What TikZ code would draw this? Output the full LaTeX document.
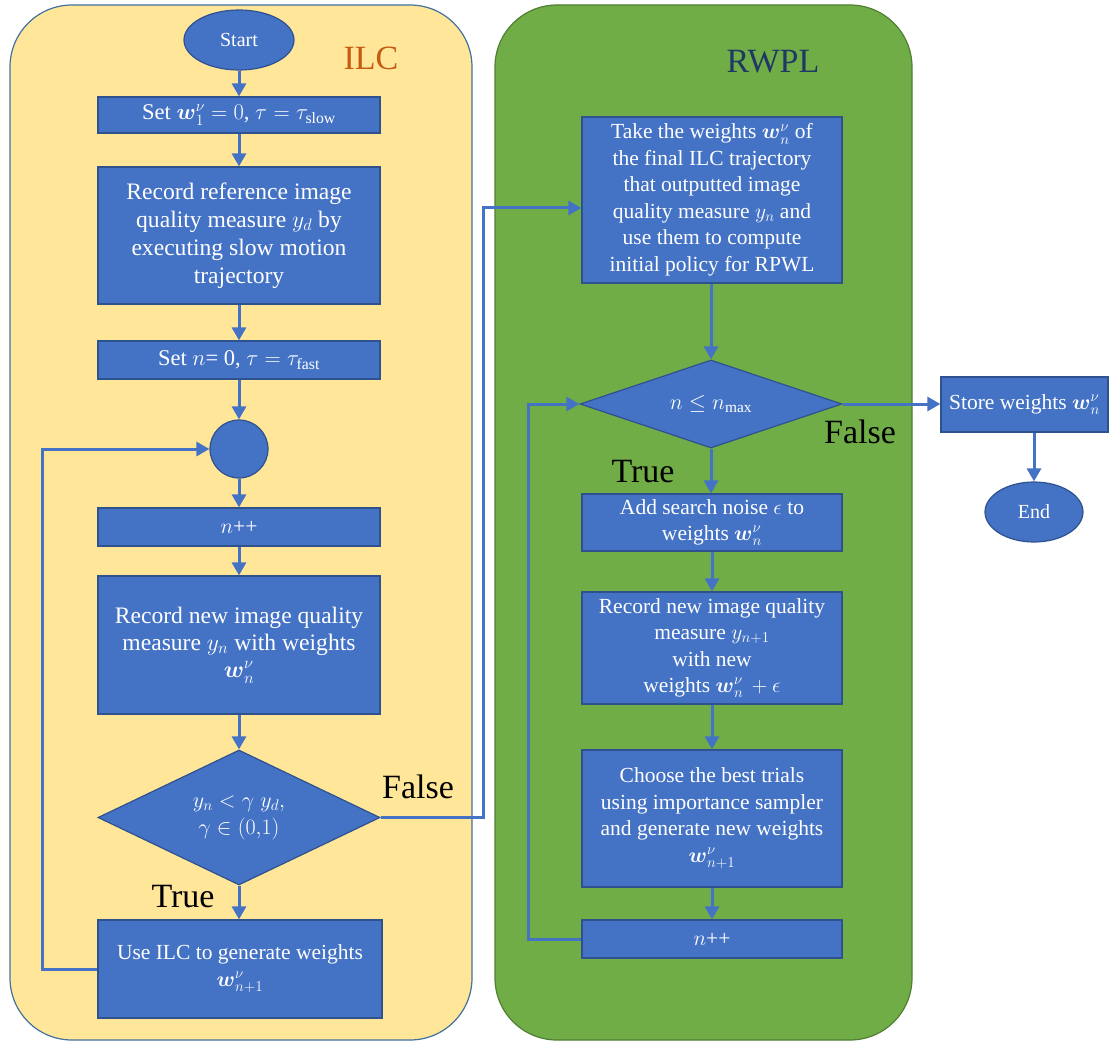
\RequirePackage{fix-cm}
\documentclass[tikz,border=0pt]{standalone}
\usepackage{amsmath}
\usepackage{fontspec}
\setmainfont{Liberation Serif}
\usetikzlibrary{shapes.geometric,arrows.meta}
\definecolor{boxblue}{HTML}{4472C4}
\definecolor{boxedge}{HTML}{2F528F}
\definecolor{ilcfill}{HTML}{FFE699}
\definecolor{ilcedge}{HTML}{41719C}
\definecolor{rwfill}{HTML}{70AD47}
\definecolor{rwedge}{HTML}{507E32}
\definecolor{ilctext}{HTML}{C55A11}
\definecolor{rwtext}{HTML}{1F3864}
\newcommand{\bw}{\boldsymbol{w}}
\tikzset{
  proc/.style={rectangle, draw=boxedge, fill=boxblue, line width=1.2pt, text=white,
    font=\fontsize{21.5}{26.5}\selectfont, align=center, inner sep=0pt},
  term/.style={ellipse, draw=boxedge, fill=boxblue, line width=1.2pt, text=white,
    font=\fontsize{20}{24}\selectfont, inner sep=0pt},
  dec/.style={diamond, draw=boxedge, fill=boxblue, line width=1.2pt, text=white,
    font=\fontsize{22}{27}\selectfont, align=center, inner sep=0pt},
  arr/.style={line width=3pt, draw=boxblue, -{Triangle[length=13pt,width=14pt]}},
  lbl/.style={font=\fontsize{34}{40}\selectfont, text=black}
}
\begin{document}
\begin{tikzpicture}[x=1pt,y=-1pt]
\useasboundingbox (0,0) rectangle (1120,1043);
% panels
\draw[fill=ilcfill, draw=ilcedge, line width=1.2pt, rounded corners=62pt] (10,5) rectangle (472,1040);
\draw[fill=rwfill, draw=rwedge, line width=1.2pt, rounded corners=62pt] (495,5) rectangle (912,1040);
\node[font=\fontsize{34}{40}\selectfont, text=ilctext] (ilct) at (371,58) {ILC};
\node[font=\fontsize{34}{40}\selectfont, text=rwtext] (rwt) at (773,62) {RWPL};
% ILC nodes
\node[term, minimum width=110pt, minimum height=60pt] (start) at (239,40) {Start};
\node[proc, minimum width=282pt, minimum height=36pt, font=\fontsize{22.5}{27}\selectfont] (set1) at (239,115) {Set $\bw_1^\nu=0$, $\tau=\tau_{\mathrm{slow}}$};
\node[proc, minimum width=282pt, minimum height=137pt, font=\fontsize{23.6}{28}\selectfont] (ref) at (239,235.5) {Record reference image\\ quality measure $y_d$ by\\ executing slow motion\\ trajectory};
\node[proc, minimum width=282pt, minimum height=38pt, font=\fontsize{22.5}{27}\selectfont] (set2) at (239,360) {Set $n$= 0, $\tau=\tau_{\mathrm{fast}}$};
\node[circle, draw=boxedge, fill=boxblue, line width=1.2pt, minimum size=58pt, inner sep=0pt] (circ) at (239,449) {};
\node[proc, minimum width=282pt, minimum height=38pt] (inc1) at (239,527) {$n$++};
\node[proc, minimum width=282pt, minimum height=138pt, font=\fontsize{23.6}{27}\selectfont] (rec1) at (239,645) {Record new image quality\\ measure $y_n$ with weights\\ $\bw_n^\nu$};
\node[dec, minimum width=282pt, minimum height=135pt, aspect=2] (dec1) at (239,817.5) {$y_n<\gamma\;y_d,$\\ $\gamma\in(0{,}1)$};
\node[proc, minimum width=284pt, minimum height=98pt] (use) at (240,969) {Use ILC to generate weights\\ $\bw_{n+1}^\nu$};
% RWPL nodes
\node[proc, minimum width=260pt, minimum height=166pt] (take) at (712,200) {Take the weights $\bw_n^\nu$\ of\\ the final ILC trajectory\\ that outputted image\\ quality measure $y_n$ and\\ use them to compute\\ initial policy for RPWL};
\node[dec, minimum width=262pt, minimum height=88pt, aspect=3] (dec2) at (711,404) {$n\leq n_{\mathrm{max}}$};
\node[proc, minimum width=260pt, minimum height=57pt] (noise) at (712,522.5) {Add search noise $\epsilon$ to\\ weights $\bw_n^\nu$};
\node[proc, minimum width=260pt, minimum height=112pt] (rec2) at (712,648) {Record new image quality\\ measure $y_{n+1}$\\ with new\\ weights $\bw_n^\nu\,+\epsilon$};
\node[proc, minimum width=260pt, minimum height=137pt] (choose) at (712,818.5) {Choose the best trials\\ using importance sampler\\ and generate new weights\\ $\bw_{n+1}^\nu$};
\node[proc, minimum width=260pt, minimum height=38pt] (inc2) at (712,939) {$n$++};
\node[proc, minimum width=167pt, minimum height=55pt] (store) at (1024.5,404.5) {Store weights $\bw_n^\nu$};
\node[term, minimum width=98pt, minimum height=60pt] (end) at (1034,512) {End};
% labels
\node[lbl] (f1) at (418,787) {False};
\node[lbl] (t1) at (183,897) {True};
\node[lbl] (f2) at (860,432) {False};
\node[lbl] (t2) at (643,472) {True};
% ILC arrows
\draw[arr] (start) -- (set1);
\draw[arr] (set1) -- (ref);
\draw[arr] (ref) -- (set2);
\draw[arr] (set2) -- (circ);
\draw[arr] (circ) -- (inc1);
\draw[arr] (inc1) -- (rec1);
\draw[arr] (rec1) -- (dec1);
\draw[arr] (dec1.south) -- (dec1.south |- use.north);
\coordinate (lx) at (42,0);
\draw[arr] (use.west) -- (use.west -| lx) -- (circ.west -| lx) -- (circ.west);
\coordinate (fx) at (483,208);
\draw[arr] (dec1.east) -- (dec1.east -| fx) -- (fx) -- (fx -| take.west);
% RWPL arrows
\draw[arr] (take.south -| dec2.north) -- (dec2.north);
\draw[arr] (dec2.south) -- (dec2.south |- noise.north);
\draw[arr] (noise.south -| rec2.north) -- (rec2.north);
\draw[arr] (rec2) -- (choose);
\draw[arr] (choose) -- (inc2);
\coordinate (rx) at (528,0);
\draw[arr] (inc2.west) -- (inc2.west -| rx) -- (dec2.west -| rx) -- (dec2.west);
\draw[arr] (dec2.east) -- (dec2.east -| store.west);
\draw[arr] (store.south -| end.north) -- (end.north);
\end{tikzpicture}
\end{document}
